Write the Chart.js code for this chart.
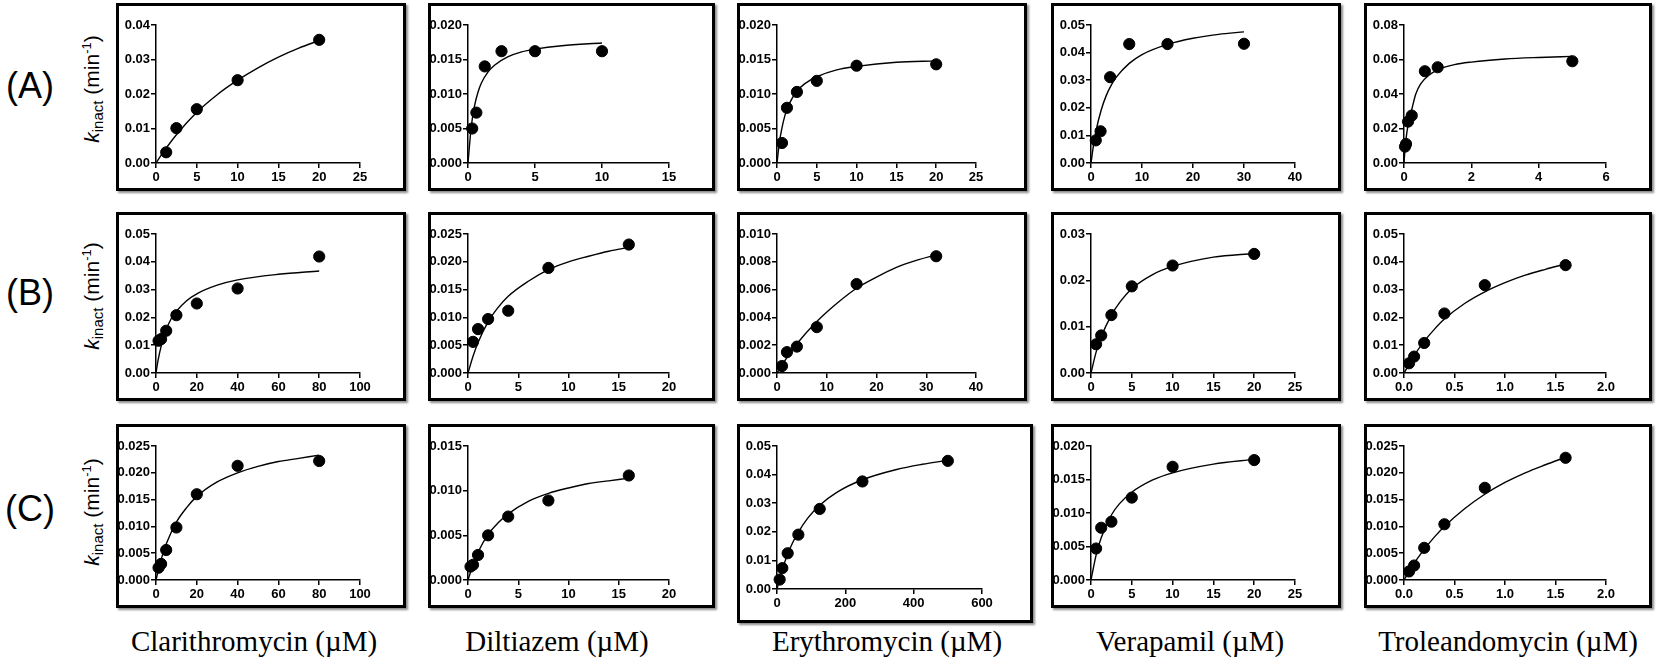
<!DOCTYPE html>
<html lang="en">
<head>
<meta charset="utf-8">
<title>kinact plots</title>
<script src="https://cdn.jsdelivr.net/npm/chart.js@4.4.1/dist/chart.umd.min.js"></script>
<style>
    body { margin: 0; background: #fff; }
    #root { position: relative; width: 1656px; height: 665px; overflow: hidden; }
    .panel {
        position: absolute;
        box-sizing: border-box;
        border: 3px solid #000;
        background: #fff;
        box-shadow: 2px 2px 2px rgba(0, 0, 0, 0.45);
    }
    .panel canvas { display: block; }
    .rowLabel {
        position: absolute;
        font-family: 'Liberation Sans', Arial, sans-serif;
        font-size: 36px;
        transform: translate(-50%, -50%);
        white-space: nowrap;
    }
    .yTitle {
        position: absolute;
        font-family: 'Liberation Sans', Arial, sans-serif;
        font-size: 21px;
        white-space: nowrap;
        transform: translate(-50%, -50%) rotate(-90deg);
    }
    .yTitle sub { font-size: 15px; vertical-align: -4px; }
    .yTitle sup { font-size: 13px; vertical-align: 8px; }
    .xTitle {
        position: absolute;
        font-family: 'Liberation Serif', 'Times New Roman', serif;
        font-size: 29px;
        white-space: nowrap;
        transform: translate(-50%, -50%);
    }
</style>
</head>
<body>
<div id="root"></div>
<script>
// 行ラベルと薬剤名
const rowNames = ['(A)', '(B)', '(C)'];
const drugs = ['Clarithromycin', 'Diltiazem', 'Erythromycin', 'Verapamil', 'Troleandomycin'];

// 軸の範囲（行ごと、列順）
const xMax = [[25, 15, 25, 40, 6], [100, 20, 40, 25, 2], [100, 20, 600, 25, 2]];
const xStep = [[5, 5, 5, 10, 2], [20, 5, 10, 5, 0.5], [20, 5, 200, 5, 0.5]];
const xDec = [[0, 0, 0, 0, 0], [0, 0, 0, 0, 1], [0, 0, 0, 0, 1]];
const yMax = [[0.04, 0.02, 0.02, 0.05, 0.08], [0.05, 0.025, 0.01, 0.03, 0.05], [0.025, 0.015, 0.05, 0.02, 0.025]];
const yStep = [[0.01, 0.005, 0.005, 0.01, 0.02], [0.01, 0.005, 0.002, 0.01, 0.01], [0.005, 0.005, 0.01, 0.005, 0.005]];
const yDec = [[2, 3, 3, 2, 2], [2, 3, 3, 2, 2], [3, 3, 2, 3, 3]];

// (A) 測定値とフィット曲線
const a1X = [1.25, 2.5, 5, 10, 20];
const a1Y = [0.0031, 0.0101, 0.0156, 0.0240, 0.0357];
const a1FitX = [0, 1, 2.5, 5, 7.5, 10, 12.5, 15, 17.5, 20];
const a1FitY = [0, 0.0035, 0.0082, 0.0147, 0.0198, 0.0240, 0.0276, 0.0307, 0.0333, 0.0355];

const a2X = [0.3125, 0.625, 1.25, 2.5, 5, 10];
const a2Y = [0.0050, 0.0073, 0.0140, 0.0162, 0.0162, 0.0162];
const a2FitX = [0, 0.25, 0.5, 0.75, 1, 1.5, 2, 3, 4, 5, 7, 10];
const a2FitY = [0, 0.0054, 0.0084, 0.0103, 0.0116, 0.0132, 0.0142, 0.0154, 0.0161, 0.0165, 0.0170, 0.0174];

const a3X = [0.625, 1.25, 2.5, 5, 10, 20];
const a3Y = [0.0029, 0.0080, 0.0103, 0.0119, 0.0141, 0.0143];
const a3FitX = [0, 0.3, 0.625, 1, 1.5, 2.5, 3.5, 5, 7.5, 10, 15, 20];
const a3FitY = [0, 0.0030, 0.0051, 0.0069, 0.0085, 0.0104, 0.0115, 0.0125, 0.0135, 0.0140, 0.0146, 0.0148];

const a4X = [0.9375, 1.875, 3.75, 7.5, 15, 30];
const a4Y = [0.0082, 0.0115, 0.0311, 0.0431, 0.0431, 0.0432];
const a4FitX = [0, 0.5, 1, 2, 3, 4, 5, 7.5, 10, 15, 20, 25, 30];
const a4FitY = [0, 0.0066, 0.0118, 0.0192, 0.0245, 0.0283, 0.0312, 0.0361, 0.0393, 0.0430, 0.0452, 0.0466, 0.0475];

const a5X = [0.03, 0.06, 0.12, 0.23, 0.62, 1.0, 5.0];
const a5Y = [0.0095, 0.0110, 0.0240, 0.0275, 0.0532, 0.0555, 0.0590];
const a5FitX = [0, 0.03, 0.06, 0.12, 0.23, 0.35, 0.5, 0.75, 1, 1.5, 2, 3, 4, 5];
const a5FitY = [0, 0.008, 0.014, 0.022, 0.031, 0.040, 0.046, 0.051, 0.054, 0.057, 0.0585, 0.0603, 0.0612, 0.0618];

// (B)
const b1X = [1.25, 2.5, 5, 10, 20, 40, 80];
const b1Y = [0.0116, 0.0122, 0.0152, 0.0208, 0.0250, 0.0304, 0.0419];
const b1FitX = [0, 1, 2.5, 5, 7.5, 10, 15, 20, 30, 40, 60, 80];
const b1FitY = [0, 0.0045, 0.0096, 0.0156, 0.0196, 0.0222, 0.0260, 0.0285, 0.0316, 0.0335, 0.0355, 0.0367];

const b2X = [0.5, 1, 2, 4, 8, 16];
const b2Y = [0.0056, 0.0079, 0.0097, 0.0112, 0.0189, 0.0231];
const b2FitX = [0, 0.5, 1, 2, 3, 4, 6, 8, 10, 12, 14, 16];
const b2FitY = [0, 0.0030, 0.0055, 0.0092, 0.0118, 0.0138, 0.0165, 0.0186, 0.0200, 0.0210, 0.0219, 0.0226];

const b3X = [1, 2, 4, 8, 16, 32];
const b3Y = [0.0005, 0.0015, 0.0019, 0.0033, 0.0064, 0.0084];
const b3FitX = [0, 2, 4, 8, 12, 16, 20, 24, 28, 32];
const b3FitY = [0, 0.0011, 0.0021, 0.0037, 0.0050, 0.0061, 0.0069, 0.0076, 0.0081, 0.0085];

const b4X = [0.625, 1.25, 2.5, 5, 10, 20];
const b4Y = [0.0062, 0.0081, 0.0125, 0.0187, 0.0232, 0.0257];
const b4FitX = [0, 0.625, 1.25, 2.5, 3.5, 5, 7.5, 10, 15, 20];
const b4FitY = [0, 0.0045, 0.0078, 0.0125, 0.0152, 0.0182, 0.0212, 0.0230, 0.0250, 0.0258];

const b5X = [0.05, 0.1, 0.2, 0.4, 0.8, 1.6];
const b5Y = [0.0035, 0.0059, 0.0108, 0.0214, 0.0316, 0.0388];
const b5FitX = [0, 0.1, 0.2, 0.3, 0.4, 0.6, 0.8, 1.0, 1.2, 1.4, 1.6];
const b5FitY = [0, 0.0063, 0.0114, 0.0157, 0.0194, 0.0250, 0.0292, 0.0325, 0.0352, 0.0373, 0.0392];

// (C)
const c1X = [1.25, 2.5, 5, 10, 20, 40, 80];
const c1Y = [0.0023, 0.0030, 0.0056, 0.0098, 0.0160, 0.0213, 0.0222];
const c1FitX = [0, 2.5, 5, 10, 15, 20, 30, 40, 50, 60, 70, 80];
const c1FitY = [0, 0.0038, 0.0067, 0.0108, 0.0135, 0.0156, 0.0183, 0.0200, 0.0212, 0.0221, 0.0227, 0.0233];

const c2X = [0.25, 0.5, 1, 2, 4, 8, 16];
const c2Y = [0.0015, 0.0017, 0.0028, 0.0050, 0.0071, 0.0089, 0.0117];
const c2FitX = [0, 0.5, 1, 2, 3, 4, 6, 8, 10, 12, 14, 16];
const c2FitY = [0, 0.0017, 0.0031, 0.0051, 0.0064, 0.0074, 0.0088, 0.0097, 0.0103, 0.0108, 0.0111, 0.0114];

const c3X = [7.8, 15.6, 31.25, 62.5, 125, 250, 500];
const c3Y = [0.0033, 0.0073, 0.0125, 0.0190, 0.0280, 0.0376, 0.0448];
const c3FitX = [0, 7.8, 15.6, 31.25, 45, 62.5, 90, 125, 175, 250, 350, 425, 500];
const c3FitY = [0, 0.0036, 0.0068, 0.0122, 0.0160, 0.0199, 0.0248, 0.0293, 0.0338, 0.0382, 0.0418, 0.0436, 0.0450];

const c4X = [0.625, 1.25, 2.5, 5, 10, 20];
const c4Y = [0.0047, 0.0078, 0.0087, 0.0123, 0.0169, 0.0179];
const c4FitX = [0, 0.625, 1.25, 2.5, 3.5, 5, 7.5, 10, 15, 20];
const c4FitY = [0, 0.0037, 0.0063, 0.0097, 0.0114, 0.0131, 0.0149, 0.0160, 0.0173, 0.0180];

const c5X = [0.05, 0.1, 0.2, 0.4, 0.8, 1.6];
const c5Y = [0.0016, 0.0027, 0.0060, 0.0104, 0.0172, 0.0228];
const c5FitX = [0, 0.1, 0.2, 0.3, 0.4, 0.6, 0.8, 1.0, 1.2, 1.4, 1.6];
const c5FitY = [0, 0.0031, 0.0057, 0.0080, 0.0100, 0.0133, 0.0160, 0.0182, 0.0200, 0.0215, 0.0229];

const pointsX = [[a1X, a2X, a3X, a4X, a5X], [b1X, b2X, b3X, b4X, b5X], [c1X, c2X, c3X, c4X, c5X]];
const pointsY = [[a1Y, a2Y, a3Y, a4Y, a5Y], [b1Y, b2Y, b3Y, b4Y, b5Y], [c1Y, c2Y, c3Y, c4Y, c5Y]];
const fitX = [[a1FitX, a2FitX, a3FitX, a4FitX, a5FitX], [b1FitX, b2FitX, b3FitX, b4FitX, b5FitX], [c1FitX, c2FitX, c3FitX, c4FitX, c5FitX]];
const fitY = [[a1FitY, a2FitY, a3FitY, a4FitY, a5FitY], [b1FitY, b2FitY, b3FitY, b4FitY, b5FitY], [c1FitY, c2FitY, c3FitY, c4FitY, c5FitY]];

// レイアウト（px）
const colLeft = [116, 428, 737, 1051, 1364];
const colWidth = [290, 287, 290, 290, 288];
const rowTop = [3, 212, 424];
const rowHeight = [188, 189, 184];
const rowLabelY = [86, 293, 509];
const xTitleX = [254, 557, 887, 1190, 1508];

const BORDER = 3;
const tickFont = { family: "'Liberation Sans', Arial, sans-serif", size: 13, weight: 'bold' };

// ユーティリティ関数
const toXY = (xs, ys) => xs.map((x, i) => ({ x: x, y: ys[i] }));

const addDiv = (cls, html, left, top) => {
    const el = document.createElement('div');
    el.className = cls;
    el.innerHTML = html;
    el.style.left = left + 'px';
    el.style.top = top + 'px';
    document.getElementById('root').appendChild(el);
    return el;
};

// 1枚のパネルを描画
const drawPanel = (r, c) => {
    let w = colWidth[c];
    let h = rowHeight[r];
    let padBottom = 1;
    // Erythromycin (C) は枠が少し大きい
    if (r === 2 && c === 2) { w += 6; h += 15; padBottom = 7; }

    const box = document.createElement('div');
    box.className = 'panel';
    box.style.left = colLeft[c] + 'px';
    box.style.top = rowTop[r] + 'px';
    box.style.width = w + 'px';
    box.style.height = h + 'px';
    const canvas = document.createElement('canvas');
    canvas.width = w - 2 * BORDER;
    canvas.height = h - 2 * BORDER;
    box.appendChild(canvas);
    document.getElementById('root').appendChild(box);

    const axisLine = { display: true, color: '#000', width: 1.5 };
    const gridTicks = { drawOnChartArea: false, drawTicks: true, tickLength: 5, color: '#000', lineWidth: 1.5 };

    new Chart(canvas.getContext('2d'), {
        type: 'scatter',
        data: {
            datasets: [
                {
                    label: 'fit',
                    data: toXY(fitX[r][c], fitY[r][c]),
                    showLine: true,
                    borderColor: '#000',
                    borderWidth: 1.4,
                    pointRadius: 0,
                    cubicInterpolationMode: 'monotone',
                    clip: false
                },
                {
                    label: 'data',
                    data: toXY(pointsX[r][c], pointsY[r][c]),
                    backgroundColor: '#000',
                    borderColor: '#000',
                    pointRadius: 5.6,
                    clip: false
                }
            ]
        },
        options: {
            responsive: false,
            animation: false,
            layout: { padding: { top: 19, right: c === 2 ? 48 : 43, bottom: padBottom, left: 0 } },
            plugins: { legend: { display: false }, tooltip: { enabled: false } },
            scales: {
                x: {
                    type: 'linear',
                    min: 0,
                    max: xMax[r][c],
                    border: axisLine,
                    grid: gridTicks,
                    afterFit: (s) => { s.height = 24; },
                    ticks: {
                        stepSize: xStep[r][c],
                        color: '#000',
                        font: tickFont,
                        padding: 2,
                        maxRotation: 0,
                        callback: (v) => Number(v).toFixed(xDec[r][c])
                    }
                },
                y: {
                    type: 'linear',
                    min: 0,
                    max: yMax[r][c],
                    border: axisLine,
                    grid: gridTicks,
                    afterFit: (s) => { s.width = 37; },
                    ticks: {
                        stepSize: yStep[r][c],
                        color: '#000',
                        font: tickFont,
                        padding: 1,
                        callback: (v) => Number(v).toFixed(yDec[r][c])
                    }
                }
            }
        }
    });
};

// ページ読み込み時に実行
document.addEventListener('DOMContentLoaded', () => {
    rowNames.forEach((name, r) => {
        addDiv('rowLabel', name, 30, rowLabelY[r]);
        addDiv('yTitle', '<i>k</i><sub>inact</sub> (min<sup>-1</sup>)', 92, rowLabelY[r] + 3);
        drugs.forEach((drug, c) => drawPanel(r, c));
    });
    drugs.forEach((drug, c) => {
        addDiv('xTitle', drug + ' (\u00B5M)', xTitleX[c], 641);
    });
});
</script>
</body>
</html>
